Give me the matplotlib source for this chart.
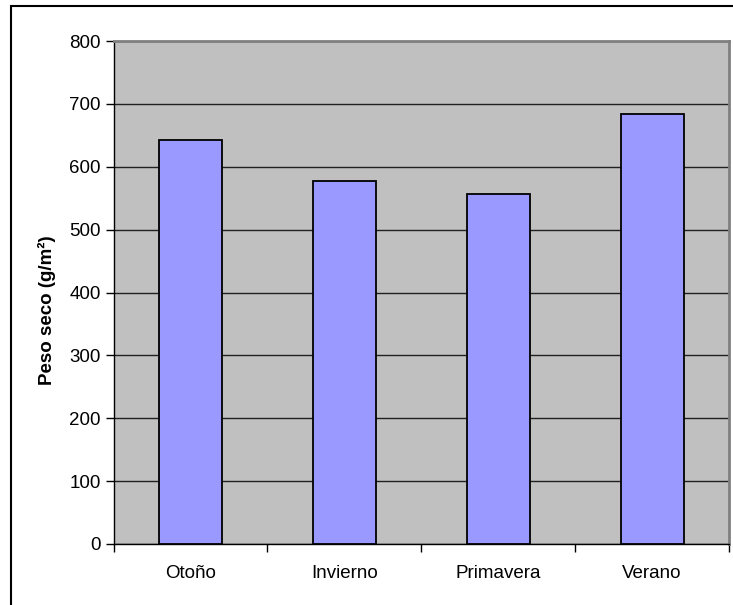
import matplotlib
matplotlib.use("Agg")
import matplotlib.pyplot as plt
from matplotlib.patches import Rectangle

plt.rcParams['font.family'] = ['Liberation Sans', 'DejaVu Sans']

seasons = ["Otoño", "Invierno", "Primavera", "Verano"]
dry_weight = [642, 577, 556, 684]
y_ticks = [0, 100, 200, 300, 400, 500, 600, 700, 800]

fig = plt.figure(figsize=(7.33, 6.05), dpi=100)
ax = fig.add_axes([113.5 / 733, 1 - 544 / 605, (729 - 113.5) / 733, (544 - 41) / 605])

ax.set_facecolor('#C0C0C0')
x = list(range(len(seasons)))
ax.bar(x, dry_weight, width=0.41, color='#9999FF', edgecolor='black', linewidth=1.3, zorder=3)

ax.set_xlim(-0.5, len(seasons) - 0.5)
ax.set_ylim(0, 800)
ax.set_yticks(y_ticks)
ax.set_yticklabels([str(v) for v in y_ticks], fontsize=13.5)
ax.yaxis.grid(True, color='#202020', linewidth=1.0, zorder=1)
ax.set_axisbelow(True)

# category ticks sit between bars; labels centred under each bar
ax.set_xticks([i - 0.5 for i in range(len(seasons) + 1)])
ax.set_xticklabels([])
ax.set_xticks(x, minor=True)
ax.set_xticklabels(seasons, minor=True, fontsize=13.5)
ax.tick_params(axis='x', which='minor', length=0, pad=15)
ax.tick_params(axis='x', which='major', length=6, width=1, color='black', direction='out')
ax.tick_params(axis='y', length=6, width=1, color='black', direction='out', pad=3)

for side in ['top', 'right']:
    ax.spines[side].set_color('#808080')
    ax.spines[side].set_linewidth(2)
for side in ['left', 'bottom']:
    ax.spines[side].set_color('black')
    ax.spines[side].set_linewidth(1)

ax.set_ylabel("Peso seco (g/m²)", fontsize=13.5, fontweight='bold')
ax.yaxis.set_label_coords(-0.094, 0.465)

# outer chart border
fig.patches.append(Rectangle((11 / 733, -0.05), 1.1, 1 - 6 / 605 + 0.05,
                             transform=fig.transFigure, fill=False,
                             edgecolor='black', linewidth=1.5))

fig.savefig("out.png", dpi=100)
